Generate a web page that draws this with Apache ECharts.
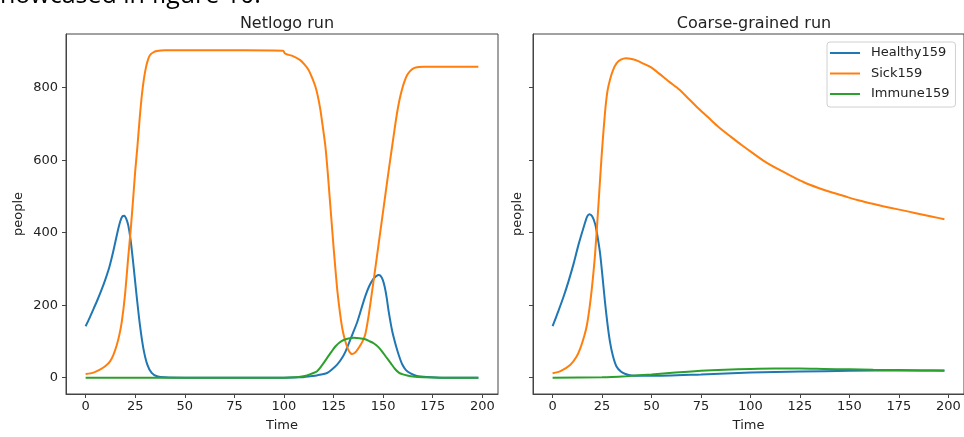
<!DOCTYPE html>
<html><head><meta charset="utf-8">
<script src="https://cdn.jsdelivr.net/npm/echarts@6/dist/echarts.min.js"></script>
<style>html,body{margin:0;padding:0;background:#fff;overflow:hidden}#c{width:964px;height:437px}</style>
</head><body><div id="c"></div>
<script>
// ---- data (time, people) ----
const xTicks = [0, 25, 50, 75, 100, 125, 150, 175, 200];
const yTicks = [0, 200, 400, 600, 800];
const seriesNames = ['Healthy159', 'Sick159', 'Immune159'];
const panelTitles = ['Netlogo run', 'Coarse-grained run'];

const netlogoHealthy = [[0,142],[2,165],[4,190],[6,215],[8,242],[10,272],[12,306],[14,350],[16,400],[17.5,432],[18.5,445],[19.5,447],[20.5,438],[21.5,420],[22.7,379],[24,316],[25.7,226],[27.4,144],[29.1,81],[31.1,36],[33.3,13],[35.9,4],[40,1],[50,0],[100,0],[108,1],[113,4],[117,7],[121.7,13],[124,22],[126.8,36],[129,52],[131,72],[134.3,117],[136.9,153],[139,190],[141,225],[143,253],[145,272],[146.5,280],[147.8,283],[148.8,280],[149.8,270],[150.8,250],[151.8,220],[152.8,182],[154.5,130],[156.2,93],[157.9,62],[159.6,37],[161.5,21],[163.8,12],[167,5],[172,2],[180,0],[198,0]];
const netlogoSick = [[0,10],[4,14],[7.2,22],[10,32],[12.3,45],[14,63],[15.7,90],[17,118],[18.2,153],[19.8,226],[21.5,334],[22.7,407],[24,497],[25,570],[26.1,637],[27.2,712],[28.3,777],[29.4,825],[30.5,858],[31.5,878],[32.5,890],[34,897],[35.9,901],[40,903],[60,903],[80,903],[99.5,902],[100.5,894],[102,891],[104.5,887],[108.2,876],[110.3,864],[112.4,849],[114,830],[115.8,804],[117,778],[118.3,741],[119.5,695],[120.9,637],[122,570],[123,500],[124,430],[125,360],[126,295],[127,235],[128.4,172],[129.6,130],[131,99],[132.6,75],[134.3,65],[136,70],[138,85],[139.6,100],[141,120],[142.7,172],[144.6,245],[146.5,320],[148.5,400],[150.5,480],[152.5,560],[154.5,637],[155.7,683],[157,730],[158.3,768],[159.6,797],[160.8,818],[162.1,835],[163.8,847],[165.5,854],[168,857],[170.5,858],[198,858]];
const netlogoImmune = [[0,0],[100,0],[106,1],[109,3],[111.6,6],[114,11],[116.7,18],[119,33],[121.7,54],[124,72],[125.9,86],[128,97],[130.1,104],[132.5,108],[135.2,110],[138,109],[141,106],[143,101],[145.2,95],[147.5,85],[149.5,72],[151.5,57],[153.7,41],[156,24],[157.9,14],[160,9],[162.1,6],[165,3],[170,1],[180,0],[198,0]];

const coarseHealthy = [[0,142],[3,185],[5.7,226],[8,265],[10.7,316],[13,365],[15.7,415],[17.5,445],[18.7,451],[20,445],[21.5,424],[22.7,390],[24,343],[25.2,280],[26.5,208],[27.7,150],[29,99],[30.5,60],[32.3,31],[34.5,17],[36.5,11],[40,6],[50,5],[75,9],[100,14],[125,17],[150,19],[175,20],[198,20]];
const coarseSick = [[0,12],[4,18],[9,36],[12,57],[14,81],[16,115],[17.3,144],[18.6,190],[19.8,244],[21.5,343],[23.2,479],[24.8,614],[26.5,732],[27.7,790],[29,822],[30.5,848],[32.3,867],[34.5,877],[37,881],[40,879],[43,874],[46,866],[50,855],[54,838],[59,816],[64,795],[69,768],[74,741],[79,716],[84,691],[90,665],[95.7,641],[101,620],[107.3,596],[114,575],[120.7,556],[127,539],[134,524],[140.5,512],[147.3,501],[154,490],[160.7,481],[167,473],[174,465],[180,458],[186,451],[192,444],[198,437]];
const coarseImmune = [[0,0],[25,1],[37,4],[50,9],[62,14],[75,19],[87,22],[100,24],[112,25],[125,25],[137,24],[150,23],[162,22],[175,21],[187,20],[198,19]];

const colors = ['#1f77b4', '#ff7f0e', '#2ca02c'];
const FONT = '"DejaVu Sans", sans-serif';
const TXT = '#222';

const chart = echarts.init(document.getElementById('c'), null, {renderer: 'canvas'});

function xAxis(gi) {
  return {
    type: 'value', gridIndex: gi, min: -9.9, max: 207.9,
    name: 'Time', nameLocation: 'middle', nameGap: 25,
    nameTextStyle: {fontFamily: FONT, fontSize: 13, color: TXT},
    axisLine: {show: true, onZero: false, lineStyle: {color: '#444', width: 1}},
    axisTick: {show: true, length: 4, lineStyle: {color: '#444'}, customValues: xTicks},
    axisLabel: {show: true, margin: 6, fontFamily: FONT, fontSize: 13, color: TXT, customValues: xTicks},
    splitLine: {show: false}
  };
}
function yAxis(gi, showLabels, gap) {
  return {
    type: 'value', gridIndex: gi, min: -45, max: 948,
    name: 'people', nameLocation: 'middle', nameGap: gap, nameRotate: 90,
    nameTextStyle: {fontFamily: FONT, fontSize: 13, color: TXT},
    axisLine: {show: true, onZero: false, lineStyle: {color: '#444', width: 1}},
    axisTick: {show: true, length: 4, lineStyle: {color: '#444'}, customValues: yTicks},
    axisLabel: {show: showLabels, margin: 8, fontFamily: FONT, fontSize: 13, color: TXT, customValues: yTicks},
    splitLine: {show: false}
  };
}
function line(name, data, gi, ci) {
  return {
    type: 'line', name: name, xAxisIndex: gi, yAxisIndex: gi, data: data,
    showSymbol: false, smooth: 0.25,
    lineStyle: {color: colors[ci], width: 2}, itemStyle: {color: colors[ci]},
    emphasis: {disabled: true}, animation: false
  };
}

chart.setOption({
  animation: false,
  backgroundColor: '#fff',
  title: [
    {text: panelTitles[0], left: 282, top: 11, textAlign: 'center',
     textStyle: {fontFamily: FONT, fontSize: 16, fontWeight: 'normal', color: TXT}},
    {text: panelTitles[1], left: 749, top: 11, textAlign: 'center',
     textStyle: {fontFamily: FONT, fontSize: 16, fontWeight: 'normal', color: TXT}}
  ],
  graphic: [{
    type: 'text', left: -12, top: -17,
    style: {text: 'showcased in figure 10.', font: '25px "Open Sans", sans-serif', fill: '#000'}
  }],
  legend: {
    data: seriesNames, orient: 'vertical', left: 827, top: 42,
    icon: 'rect', itemWidth: 30, itemHeight: 2, itemGap: 6.5,
    padding: [4, 6, 6, 3],
    borderColor: '#d0d0d0', borderWidth: 1, borderRadius: 3,
    backgroundColor: 'rgba(255,255,255,0.85)',
    textStyle: {fontFamily: FONT, fontSize: 13, color: TXT, lineHeight: 14, padding: [0, 0, 0, 6]},
    selectedMode: false
  },
  grid: [
    {left: 66, top: 34, width: 432, height: 365, show: true, borderColor: '#444', borderWidth: 1, containLabel: false},
    {left: 533, top: 34, width: 432, height: 365, show: true, borderColor: '#444', borderWidth: 1, containLabel: false}
  ],
  xAxis: [xAxis(0), xAxis(1)],
  yAxis: [yAxis(0, true, 41), yAxis(1, false, 9)],
  series: [
    line(seriesNames[0], netlogoHealthy, 0, 0),
    line(seriesNames[1], netlogoSick, 0, 1),
    line(seriesNames[2], netlogoImmune, 0, 2),
    line(seriesNames[0], coarseHealthy, 1, 0),
    line(seriesNames[1], coarseSick, 1, 1),
    line(seriesNames[2], coarseImmune, 1, 2)
  ]
});
</script></body></html>
